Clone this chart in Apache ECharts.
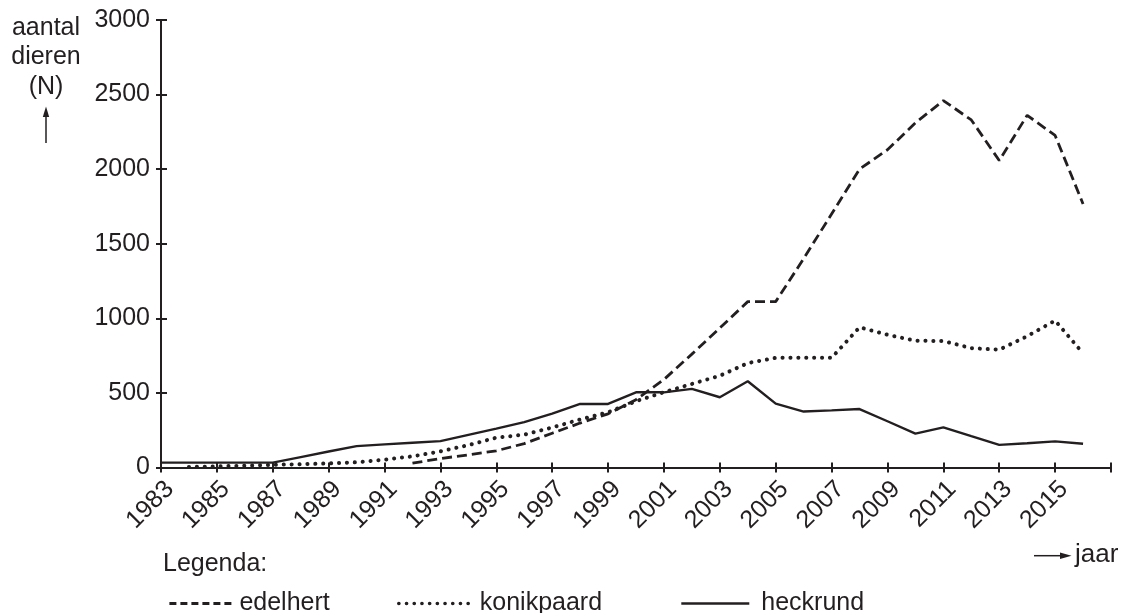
<!DOCTYPE html>
<html>
<head>
<meta charset="utf-8">
<script src="https://cdn.jsdelivr.net/npm/echarts@6/dist/echarts.min.js"></script>
<style>
html,body{margin:0;padding:0;background:#fff;}
#chart{width:1129px;height:613px;}
</style>
</head>
<body>
<div id="chart"></div>
<script>
var years = ['1983','1984','1985','1986','1987','1988','1989','1990','1991','1992','1993','1994','1995','1996','1997','1998','1999','2000','2001','2002','2003','2004','2005','2006','2007','2008','2009','2010','2011','2012','2013','2014','2015','2016','2017'];
var edelhert = [null,null,null,null,null,null,null,null,null,29,60,85,112,160,230,298,360,455,590,760,935,1112,1112,1400,1700,2000,2130,2310,2460,2330,2058,2361,2226,1767,null];
var konikpaard = [null,3,8,12,18,22,27,35,52,75,108,150,200,220,268,322,370,444,505,560,615,700,735,735,735,940,890,850,848,800,790,880,985,765,null];
var heckrund = [33,33,33,33,33,70,107,143,155,166,177,219,261,304,361,426,426,504,504,527,471,578,428,375,383,392,310,227,269,210,152,163,175,159,null];
var yTicks = [0,500,1000,1500,2000,2500,3000];

var FONT = "'Liberation Sans', Arial, Helvetica, sans-serif";
var INK = '#231f20';
var chart = echarts.init(document.getElementById('chart'));

function lineSeries(name, data, style) {
  return {
    name: name, type: 'line', data: data, symbol: 'none', connectNulls: false,
    lineStyle: style, itemStyle: {color: INK}, animation: false, z: 3
  };
}

function legendOf(name, left, width, pad, lineStyle) {
  return {
    data: [name], left: left, top: 586, itemWidth: width, itemHeight: 14, selectedMode: false,
    itemStyle: {opacity: 0, borderWidth: 0},
    lineStyle: lineStyle,
    textStyle: {fontSize: 25, color: INK, fontFamily: FONT, padding: [0, 0, 0, pad]}
  };
}

var option = {
  animation: false,
  backgroundColor: '#fff',
  textStyle: {fontFamily: FONT, color: INK},
  grid: {left: 161, right: 18, top: 20, bottom: 145.5, containLabel: false},
  xAxis: [{
    type: 'category', data: years, boundaryGap: false,
    axisLine: {lineStyle: {color: INK, width: 2}},
    axisTick: {show: true, length: 5, interval: function (i) { return i % 2 === 0; }, lineStyle: {color: INK, width: 2}},
    axisLabel: {
      interval: function (i, v) { return i % 2 === 0 && v !== '2017'; },
      rotate: 45, fontSize: 25, color: INK, fontFamily: FONT, margin: 9, verticalAlign: 'top'
    },
    splitLine: {show: false}
  }, {
    type: 'category', data: years, boundaryGap: false, position: 'bottom',
    axisLine: {show: false},
    axisTick: {show: true, inside: true, length: 5, interval: function (i) { return i % 2 === 0; }, lineStyle: {color: INK, width: 2}},
    axisLabel: {show: false}, splitLine: {show: false}
  }],
  yAxis: [{
    type: 'value', min: yTicks[0], max: yTicks[yTicks.length - 1], interval: 500,
    axisLine: {show: true, lineStyle: {color: INK, width: 2}},
    axisTick: {show: true, length: 5, lineStyle: {color: INK, width: 2}},
    axisLabel: {fontSize: 25, color: INK, fontFamily: FONT, margin: 11, formatter: function (v) { return String(v); }},
    splitLine: {show: false}
  }, {
    type: 'value', min: yTicks[0], max: yTicks[yTicks.length - 1], interval: 500, position: 'left',
    axisLine: {show: false},
    axisTick: {show: true, inside: true, length: 6, lineStyle: {color: INK, width: 2}},
    axisLabel: {show: false}, splitLine: {show: false}
  }],
  legend: [
    legendOf('edelhert', 163, 65, 0, {width: 2.8, type: [7, 4]}),
    legendOf('konikpaard', 392, 76, 0, {width: 3.6, type: [0.1, 7.6], cap: 'round'}),
    legendOf('heckrund', 675, 68, 7, {width: 2.6})
  ],
  series: [
    lineSeries('edelhert', edelhert, {color: INK, width: 2.8, type: [10, 5]}),
    lineSeries('konikpaard', konikpaard, {color: INK, width: 4, type: [0.1, 7.8], cap: 'round'}),
    lineSeries('heckrund', heckrund, {color: INK, width: 2.4, type: 'solid'})
  ],
  graphic: [
    {type: 'text', x: 46, y: 13, style: {text: 'aantal\ndieren\n(N)', fontSize: 25, lineHeight: 29.5, fontFamily: FONT, fill: INK, textAlign: 'center', textVerticalAlign: 'top'}},
    {type: 'line', shape: {x1: 46, y1: 143, x2: 46, y2: 114}, style: {stroke: INK, lineWidth: 1.5}},
    {type: 'polygon', shape: {points: [[46, 106.5], [42.8, 117], [49.2, 117]]}, style: {fill: INK}},
    {type: 'line', shape: {x1: 1034, y1: 555.7, x2: 1062, y2: 555.7}, style: {stroke: INK, lineWidth: 1.5}},
    {type: 'polygon', shape: {points: [[1071.5, 555.7], [1060, 552.5], [1060, 558.9]]}, style: {fill: INK}},
    {type: 'text', x: 1075, y: 555, style: {text: 'jaar', fontSize: 26, fontFamily: FONT, fill: INK, textAlign: 'left', textVerticalAlign: 'middle'}},
    {type: 'text', x: 163, y: 564, style: {text: 'Legenda:', fontSize: 25, fontFamily: FONT, fill: INK, textAlign: 'left', textVerticalAlign: 'middle'}}
  ]
};
chart.setOption(option);
</script>
</body>
</html>
